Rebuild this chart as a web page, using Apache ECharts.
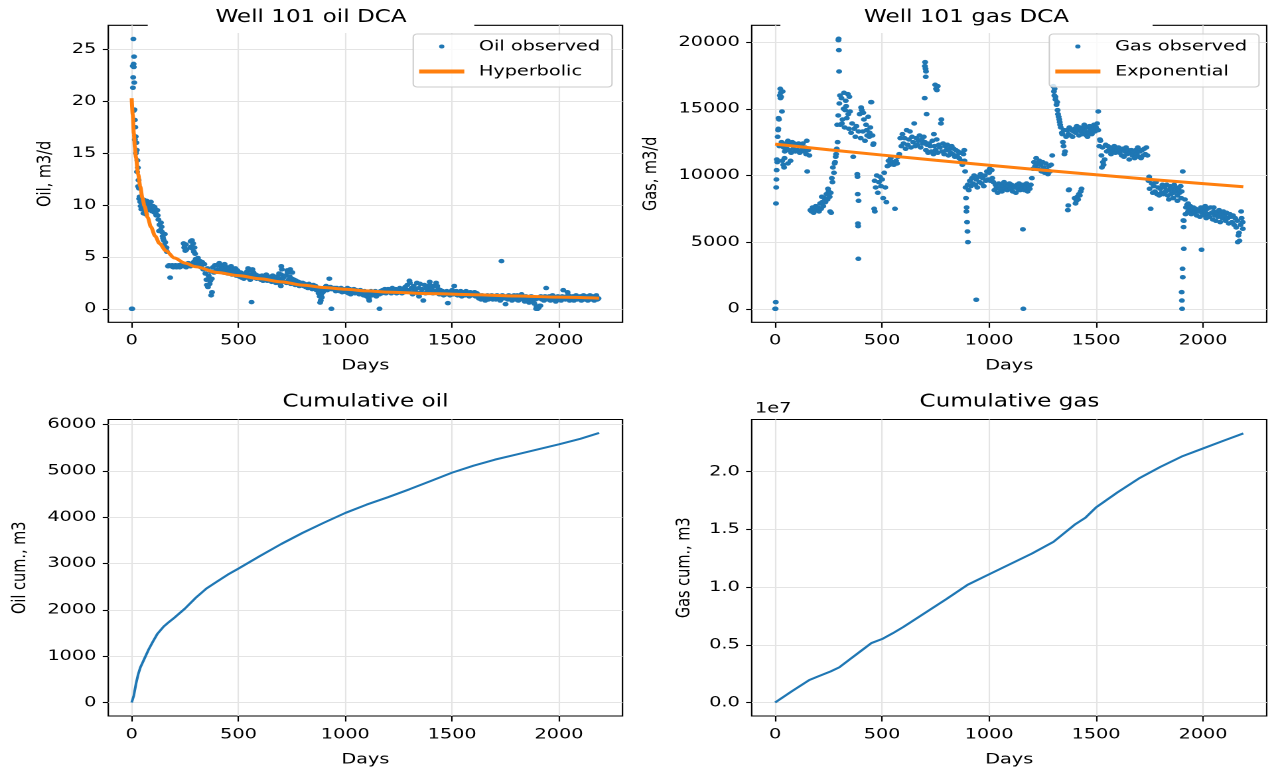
<!DOCTYPE html>
<html><head><meta charset="utf-8">
<script src="https://cdn.jsdelivr.net/npm/echarts@6/dist/echarts.min.js"></script>
<style>
html,body{margin:0;padding:0;background:#fff;overflow:hidden;width:1274px;height:771px}
#chart{width:960px;height:771px;transform:scaleX(1.3270833);transform-origin:0 0;}
</style>
</head><body><div id="chart"></div>
<script>
// ---------------- DATA ----------------
const STEP = 5; // observed rates sampled every 5 days
const xTicks = [0, 500, 1000, 1500, 2000];
const oilTicks = [0, 5, 10, 15, 20, 25];
const gasTicks = [0, 5000, 10000, 15000, 20000];
const cumOilTicks = [0, 1000, 2000, 3000, 4000, 5000, 6000];
const cumGasTicks = [0, 5e6, 1e7, 1.5e7, 2e7];

const oilRate = [
0,23.4,19.1,16.3,15.0,13.2,11.8,10.6,10.3,9.6,10.4,9.2,10.2,9.8,10.4,9.5,10.1,9.7,10.3,9.4,
9.9,9.3,9.6,9.0,9.5,8.6,8.1,7.6,7.9,7.0,6.6,7.2,5.7,5.5,4.1,4.2,3.0,4.1,4.2,4.0,
4.1,4.2,4.0,4.1,4.2,4.0,4.1,4.3,4.2,4.1,4.2,4.0,4.3,4.4,4.2,4.1,4.3,4.2,4.5,4.6,
4.8,4.4,4.9,4.2,4.6,4.0,4.5,3.8,4.3,3.4,2.8,3.9,3.2,2.4,3.6,2.9,4.0,3.5,4.2,3.7,
4.2,3.8,4.4,3.6,4.1,3.9,3.5,4.3,3.7,4.0,3.4,3.9,3.6,4.1,3.3,3.8,3.5,3.9,3.2,3.7,
3.4,3.1,3.5,3.0,3.3,2.9,3.4,3.1,3.6,3.0,3.3,2.8,3.7,3.2,3.5,3.0,3.3,2.9,3.2,3.0,
3.1,2.8,3.2,2.7,3.0,2.9,3.3,2.7,3.1,2.8,3.0,2.6,3.2,2.8,2.9,2.5,3.1,2.7,2.9,2.4,
3.3,2.7,3.0,2.6,3.2,2.5,3.5,2.8,3.1,2.4,2.9,2.6,2.8,2.3,2.7,2.5,2.6,2.2,2.5,2.3,
2.5,2.2,2.4,2.1,2.3,2.0,2.4,2.1,2.2,1.9,2.3,2.0,2.2,1.8,2.0,1.5,1.2,0.8,1.1,1.6,
2.0,1.9,2.2,1.8,2.0,1.9,2.1,1.9,2.0,1.9,2.0,1.7,2.0,1.8,1.9,1.7,2.0,1.6,1.9,1.8,
1.8,1.6,2.0,1.5,1.9,1.4,1.8,1.6,1.9,1.5,1.8,1.6,1.7,1.4,1.8,1.5,1.6,1.3,1.7,1.5,
1.2,1.6,1.0,1.5,1.7,1.3,1.6,1.4,1.7,1.2,1.5,1.6,1.4,1.7,1.5,1.8,1.6,1.9,1.5,1.7,
1.9,1.6,1.8,1.5,2.0,1.7,1.6,1.9,1.5,1.8,1.6,2.0,1.7,1.5,1.9,1.6,2.1,1.7,2.3,1.8,
2.7,1.6,2.0,1.4,2.2,1.7,1.9,2.5,1.5,2.0,2.4,1.6,1.9,0.8,2.3,1.5,2.0,1.7,2.2,2.6,
1.8,2.0,1.5,2.2,1.7,2.5,1.6,1.9,1.4,1.8,1.5,1.7,1.3,1.6,1.4,1.7,0.55,1.5,1.3,1.6,
1.8,1.4,2.2,1.5,1.7,1.3,1.6,1.4,1.7,1.2,1.5,1.6,1.3,1.7,1.4,1.5,1.2,1.6,1.4,1.5,
1.3,1.6,1.2,1.5,1.4,1.0,1.2,0.9,1.3,1.0,1.2,0.8,1.1,1.3,0.9,1.2,1.0,1.3,0.9,1.1,
1.2,0.9,1.3,1.0,1.2,0.8,1.1,1.3,1.0,1.2,0.45,1.1,0.9,1.3,1.0,1.2,0.8,1.1,1.3,0.9,
1.1,1.3,0.8,1.2,1.0,1.4,0.9,1.1,0.7,1.2,0.9,1.1,0.6,1.0,1.2,0.8,1.0,0.5,0.9,0.2,
0.0,1.0,0.3,1.2,0.9,1.1,0.8,1.2,2.0,1.0,0.9,1.2,0.8,1.1,1.3,0.9,1.1,0.7,1.0,1.2,
0.9,1.1,0.8,1.2,1.8,1.0,0.9,1.2,1.0,1.3,0.8,1.1,1.0,1.2,0.8,1.1,1.3,0.9,1.1,1.0,
1.2,0.8,1.1,1.3,0.9,1.0,1.2,0.8,1.1,1.3,0.9,1.0,1.2,0.8,1.1,1.3,0.9,1.0
];
const oilExtra = [
[3,0],[6,21.3],[7,22.3],[8,26.0],[9,23.6],[10,23.3],[11,24.3],[12,21.8],[13,19.2],[15,18.2],
[17,17.5],[19,16.6],[22,16.0],[24,15.3],[27,14.3],[29,13.6],[32,12.4],[34,11.6],[37,10.8],[42,9.9],
[47,10.2],[52,9.9],[57,10.5],[62,9.5],[67,9.1],[72,10.0],[82,9.8],[92,9.9],[107,9.8],[112,9.2],
[122,9.0],[128,7.5],[137,8.3],[142,7.4],[147,6.8],[152,6.1],[157,6.4],[163,5.9],
[243,6.3],[246,5.9],[248,6.1],[251,5.6],[254,6.2],[256,5.7],[274,5.9],[276,6.5],[279,6.0],[282,6.6],
[285,5.8],[288,6.3],[291,5.5],[294,5.9],[297,5.3],[352,2.3],[357,2.1],[362,3.0],[368,2.7],[372,1.3],
[376,1.6],[545,3.9],[561,0.65],[565,3.8],[690,3.4],[698,2.2],[700,4.1],[703,3.8],[728,3.7],[733,3.6],
[742,3.8],[752,3.5],[878,1.8],[882,0.6],[887,1.4],[925,2.9],[935,0],[1112,0.8],[1160,0],[1302,2.5],
[1345,1.2],[1396,2.3],[1430,2.2],[1731,4.6],[1893,0],[1898,0],[1905,0.1],[1913,0.3],[2040,1.6]
];

const gasRate = [
0,9100,11000,13500,12200,15800,12500,16300,12100,11800,12400,12000,12600,11900,12300,11700,12500,12000,12400,11800,
12300,11900,12400,11700,12200,11900,12400,11800,12100,11600,10300,11900,11500,7400,7300,7600,7200,7500,7700,7400,
7600,7300,7900,7500,8000,7700,8300,8000,8600,8200,8800,8400,8700,9800,10600,10200,11000,11600,13800,14500,
15400,13800,15800,14200,15000,13600,15600,14300,16100,13500,14800,13200,13900,11400,13500,12900,13700,9900,13300,14600,
12800,14900,13300,14200,12600,13800,13000,14400,12900,13600,15500,13000,12400,9600,9100,10000,8700,9500,9900,9200,
9700,8300,10200,9100,8000,10700,11100,10800,11300,10900,11000,10800,7500,11100,10900,11400,11600,12800,12200,13100,
12400,12800,12000,13400,12300,12700,13300,12100,12900,12500,13900,12200,12800,12300,12600,13000,12100,12700,12400,12900,
12500,11900,12300,11700,12400,12200,11800,12600,11600,12200,11900,12700,11700,12300,12100,13900,11800,12400,11600,12200,
11900,12300,11500,12000,11700,12200,11600,12000,11400,11900,11500,11800,11300,11700,11100,10800,11600,11100,9100,7600,
9300,8900,9600,9200,9800,9400,10000,9300,9700,9100,9900,9500,10100,9400,9800,9200,10000,9600,10300,9700,
10200,9600,10400,9800,9500,8900,9300,9100,8700,9400,9000,9300,8800,9200,9500,9000,9300,8900,9200,9400,
9000,9300,8800,9200,9100,8700,9300,9000,9400,8900,9200,9000,9300,8900,9100,9400,8800,9200,9000,9300,
9800,10500,11000,10700,11300,10900,10500,11100,10800,10300,11000,10600,10200,10900,10400,10100,10700,10300,10800,11500,
16700,16000,15700,15300,14900,14400,14000,13600,13200,12500,13400,11800,12900,13400,13100,13600,13000,13400,12900,13300,
13500,13200,13700,13400,13000,13600,13300,13100,13500,13800,13300,13000,13600,13200,13700,13400,13100,13500,13800,13300,
13600,13900,13400,12200,12600,11500,12100,10800,11200,12300,11800,12200,11900,12100,11600,12000,11800,12200,11700,12000,
11900,12100,11700,11900,11500,12000,11400,11800,12100,11600,11900,11200,11700,11900,11500,11800,11300,11900,11600,12100,
11400,11800,11300,11900,11500,12000,11600,12100,11500,9600,9000,7500,9400,8700,9200,8800,9500,8600,9100,8500,
9000,8700,9300,8600,9100,8800,9300,8500,8900,9200,8600,9000,8700,9300,8800,9100,8500,9000,8700,9200,
8800,10300,6600,8200,7600,7800,7300,7500,7700,7100,7400,7600,7200,7500,7000,7400,7300,6900,7600,7200,
7400,7000,7300,6800,7500,7100,6900,7600,7200,6700,7300,7000,6600,7200,6900,7400,6500,7100,6800,7300,
7000,6600,7200,6800,6400,7100,6900,6500,7000,6300,6800,6100,6600,5500,5100,6300,6800,6500
];
const gasExtra = [
[2,0],[3,500],[4,7900],[6,9700],[7,10400],[8,11200],[12,12900],[14,13400],[16,14300],[18,14200],
[22,16000],[24,16500],[26,16200],[28,15900],[32,14800],[33,11100],[38,10800],[42,10600],[44,11300],[60,10900],
[72,11100],[148,12600],[218,8400],[247,9000],[257,7300],[262,7200],[268,9500],[278,10900],[283,11400],[288,12000],
[292,12500],[296,20150],[297,20250],[298,19400],[299,17800],[303,16000],[312,13900],[322,16200],[327,14900],[332,15200],
[342,14600],[347,15900],[384,10100],[386,8600],[387,6400],[388,6200],[389,3750],[390,8100],[402,15100],[412,14700],
[428,13400],[442,13200],[448,15500],[458,12300],[463,7500],[466,7300],[699,15800],[700,18200],[701,18500],[703,18000],
[704,17400],[705,17800],[708,14600],[742,13100],[748,16800],[752,16500],[756,16400],[760,16700],[777,14200],[884,11900],
[888,10300],[892,8300],[894,7300],[897,6500],[899,5800],[901,5000],[940,680],[1003,10500],[1012,10400],[1158,5960],
[1160,0],[1303,16300],[1306,16500],[1310,15900],[1318,15500],[1322,14600],[1328,14200],[1332,13800],[1342,13100],[1348,12200],
[1352,11600],[1368,7400],[1370,7750],[1372,8900],[1374,8950],[1400,8300],[1404,7900],[1408,8100],[1412,8400],[1416,8200],
[1420,8600],[1424,8500],[1428,8800],[1432,9000],[1460,12900],[1510,14800],[1518,12700],[1527,10600],[1532,11000],[1748,9900],
[1752,9700],[1840,8200],[1860,8300],[1880,8100],[1898,8300],[1900,1250],[1901,620],[1902,0],[1904,3000],[1905,2370],
[1908,6630],[1909,6130],[1910,4500],[1918,7100],[1930,7900],[1993,4430],[2010,7700],[2050,7600],[2162,5000],[2168,5700],
[2178,7300],[2186,6000]
];

const hypDays = [0,5,10,15,20,30,40,50,60,75,90,110,130,160,200,250,300,400,500,600,700,800,900,1000,1100,1200,1400,1600,1800,2000,2188];
const hypRate = [20.3,18.7,16.9,15.6,14.6,13.0,11.8,10.7,9.9,8.8,7.9,7.0,6.3,5.6,4.9,4.4,4.05,3.5,3.2,2.9,2.6,2.28,2.05,1.88,1.73,1.61,1.46,1.36,1.24,1.12,1.02];

const expDays = [0,250,500,750,1000,1250,1500,1750,2000,2188];
const expRate = [12350,11930,11530,11140,10770,10400,10050,9710,9390,9150];

const cumOilDays = [0,10,20,30,40,60,80,100,120,150,170,200,250,300,350,400,450,500,600,700,800,900,1000,1100,1200,1300,1400,1500,1600,1700,1800,1900,2000,2100,2188];
const cumOil = [0,150,400,600,750,950,1150,1320,1480,1640,1720,1830,2030,2260,2460,2610,2760,2890,3160,3420,3660,3880,4090,4270,4430,4600,4780,4960,5110,5240,5350,5460,5570,5690,5815];

const cumGasDays = [0,80,160,200,260,300,350,400,450,500,550,600,700,800,900,1000,1100,1200,1300,1400,1450,1500,1600,1700,1800,1900,2000,2100,2188];
const cumGas = [0,1.0e6,1.95e6,2.25e6,2.7e6,3.05e6,3.75e6,4.45e6,5.15e6,5.5e6,6.0e6,6.55e6,7.75e6,8.95e6,10.2e6,11.1e6,12.0e6,12.9e6,13.9e6,15.4e6,16.0e6,16.9e6,18.2e6,19.4e6,20.4e6,21.3e6,22.0e6,22.7e6,23.3e6];

// ---------------- LAYOUT / STYLE ----------------
const S = 1274 / 960;            // horizontal stretch of the reference
const px = v => v / S;           // reference x pixel -> chart pixel
const FONT = 'DejaVu Sans';
const FS = 14.5;
const BLUE = '#1f77b4', ORANGE = '#ff7f0e';

const observed = (arr, extra) => arr.map((v, i) => [i * STEP, v]).concat(extra);
const pairs = (xs, ys) => xs.map((x, i) => [x, ys[i]]);
const plain = v => String(v);

const gL = px(108.3), gR = px(751.7), gW = px(622.5) - px(108.3), gW2 = px(1266.7) - px(751.7);
const grids = [
  {left: gL, top: 25.3, width: gW, height: 297},
  {left: gR, top: 25.3, width: gW2, height: 297},
  {left: gL, top: 419.5, width: gW, height: 296.5},
  {left: gR, top: 419.5, width: gW2, height: 296.5}
].map(g => Object.assign(g, {show: true, borderColor: '#000', borderWidth: 1.1, backgroundColor: 'transparent', containLabel: false}));

const txt = {color: '#000', fontFamily: FONT, fontSize: FS};
function xAxis(i) {
  return {
    gridIndex: i, type: 'value', min: -109.4, max: 2297.4,
    axisLine: {show: false, onZero: false},
    axisTick: {show: true, customValues: xTicks, length: 5.5, lineStyle: {color: '#000', width: 1.1}},
    axisLabel: Object.assign({customValues: xTicks, margin: 11, formatter: plain}, txt),
    splitLine: {show: true, lineStyle: {color: '#e4e4e4', width: 1.1}},
    name: 'Days', nameLocation: 'middle', nameGap: 36, nameTextStyle: txt
  };
}
function yAxis(i, min, max, ticks, name, gap, fmt) {
  return {
    gridIndex: i, type: 'value', min: min, max: max,
    axisLine: {show: false, onZero: false},
    axisTick: {show: true, customValues: ticks, length: 4.2, lineStyle: {color: '#000', width: 1.1}},
    axisLabel: Object.assign({customValues: ticks, margin: 9, formatter: fmt || plain}, txt),
    splitLine: {show: true, lineStyle: {color: '#e4e4e4', width: 1.1}},
    name: name, nameLocation: 'middle', nameGap: gap, nameTextStyle: txt
  };
}

const legendBase = {
  orient: 'vertical', top: 34, itemWidth: 34, itemHeight: 4, itemGap: 10,
  padding: [5, 9, 8, 4.5], backgroundColor: 'rgba(255,255,255,0.8)',
  borderColor: '#cccccc', borderWidth: 1, borderRadius: 3,
  textStyle: Object.assign({padding: [0, 0, 0, 6]}, txt), selectedMode: false
};
const titleText = {color: '#000', fontFamily: FONT, fontSize: 17.4, fontWeight: 'normal'};

const option = {
  animation: false,
  backgroundColor: '#fff',
  title: [
    {text: 'Well 101 oil DCA', left: px(311) - 51, top: 2, textAlign: 'center', padding: [7, 51, 7, 51], backgroundColor: '#fff', textStyle: titleText},
    {text: 'Well 101 gas DCA', left: px(966.5) - 63, top: 2, textAlign: 'center', padding: [7, 63, 7, 63], backgroundColor: '#fff', textStyle: titleText},
    {text: 'Cumulative oil', left: px(365.5), top: 393.5, textAlign: 'center', padding: 0, textStyle: titleText},
    {text: 'Cumulative gas', left: px(1009.5), top: 393.5, textAlign: 'center', padding: 0, textStyle: titleText}
  ],
  legend: [
    Object.assign({}, legendBase, {right: 960 - px(612), data: [{name: 'Oil observed', icon: 'circle'}, {name: 'Hyperbolic', icon: 'rect'}]}),
    Object.assign({}, legendBase, {right: 960 - px(1259), data: [{name: 'Gas observed', icon: 'circle'}, {name: 'Exponential', icon: 'rect'}]})
  ],
  graphic: [{type: 'text', left: px(755), top: 401, style: {text: '1e7', fontSize: FS, fontFamily: FONT, fill: '#000'}}],
  grid: grids,
  xAxis: [xAxis(0), xAxis(1), xAxis(2), xAxis(3)],
  yAxis: [
    yAxis(0, -1.3, 27.32, oilTicks, 'Oil, m3/d', 40),
    yAxis(1, -1012.5, 21262.5, gasTicks, 'Gas, m3/d', 68),
    yAxis(2, -290.75, 6105.75, cumOilTicks, 'Oil cum., m3', 59),
    yAxis(3, -1.167e6, 2.4507e7, cumGasTicks, 'Gas cum., m3', 43, v => (v / 1e7).toFixed(1))
  ],
  series: [
    {name: 'Oil observed', type: 'scatter', xAxisIndex: 0, yAxisIndex: 0, data: observed(oilRate, oilExtra),
     symbol: 'circle', symbolSize: 4.5, itemStyle: {color: BLUE, opacity: 1}, z: 2},
    {name: 'Hyperbolic', type: 'line', xAxisIndex: 0, yAxisIndex: 0, data: pairs(hypDays, hypRate),
     symbol: 'none', smooth: 0.3, smoothMonotone: 'x', lineStyle: {color: ORANGE, width: 3}, itemStyle: {color: ORANGE}, z: 3},
    {name: 'Gas observed', type: 'scatter', xAxisIndex: 1, yAxisIndex: 1, data: observed(gasRate, gasExtra),
     symbol: 'circle', symbolSize: 4.5, itemStyle: {color: BLUE, opacity: 1}, z: 2},
    {name: 'Exponential', type: 'line', xAxisIndex: 1, yAxisIndex: 1, data: pairs(expDays, expRate),
     symbol: 'none', smooth: false, lineStyle: {color: ORANGE, width: 3}, itemStyle: {color: ORANGE}, z: 3},
    {name: 'Cum oil', type: 'line', xAxisIndex: 2, yAxisIndex: 2, data: pairs(cumOilDays, cumOil),
     symbol: 'none', smooth: false, lineStyle: {color: BLUE, width: 2}, itemStyle: {color: BLUE}},
    {name: 'Cum gas', type: 'line', xAxisIndex: 3, yAxisIndex: 3, data: pairs(cumGasDays, cumGas),
     symbol: 'none', smooth: false, lineStyle: {color: BLUE, width: 2}, itemStyle: {color: BLUE}}
  ]
};

const chart = echarts.init(document.getElementById('chart'), null, {renderer: 'canvas', devicePixelRatio: 2});
chart.setOption(option);
</script>
</body></html>
